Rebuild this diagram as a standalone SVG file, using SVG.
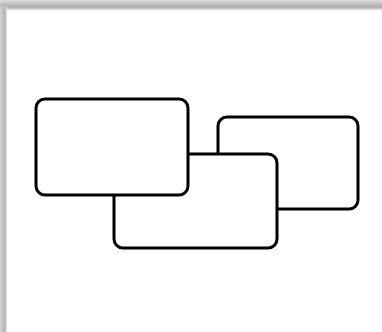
<svg xmlns="http://www.w3.org/2000/svg" width="382" height="332" viewBox="0 0 382 332">
<defs>
<linearGradient id="gt" x1="0" y1="0" x2="0" y2="1">
<stop offset="0" stop-color="#dcdcdc"/>
<stop offset="0.7" stop-color="#ababab"/>
<stop offset="1" stop-color="#e6e6e6"/>
</linearGradient>
<linearGradient id="gl" x1="0" y1="0" x2="1" y2="0">
<stop offset="0" stop-color="#d4d4d4"/>
<stop offset="0.7" stop-color="#b4b4b4"/>
<stop offset="1" stop-color="#e8e8e8"/>
</linearGradient>
<style>
.box{fill:#fff;stroke:#000;stroke-width:3}
</style>
</defs>
<rect x="0" y="0" width="382" height="332" fill="#fff"/>
<rect x="0" y="0" width="382" height="10" fill="url(#gt)"/>
<rect x="0" y="6" width="7" height="326" fill="url(#gl)"/>
<g id="nodeC"><rect class="box" x="218" y="117" width="140" height="92" rx="9"/></g>
<g id="nodeB"><rect class="box" x="114" y="154" width="163" height="94" rx="9"/></g>
<g id="nodeA"><rect class="box" x="36" y="99" width="152" height="96" rx="9"/></g>
<g id="connectors"></g>
</svg>
